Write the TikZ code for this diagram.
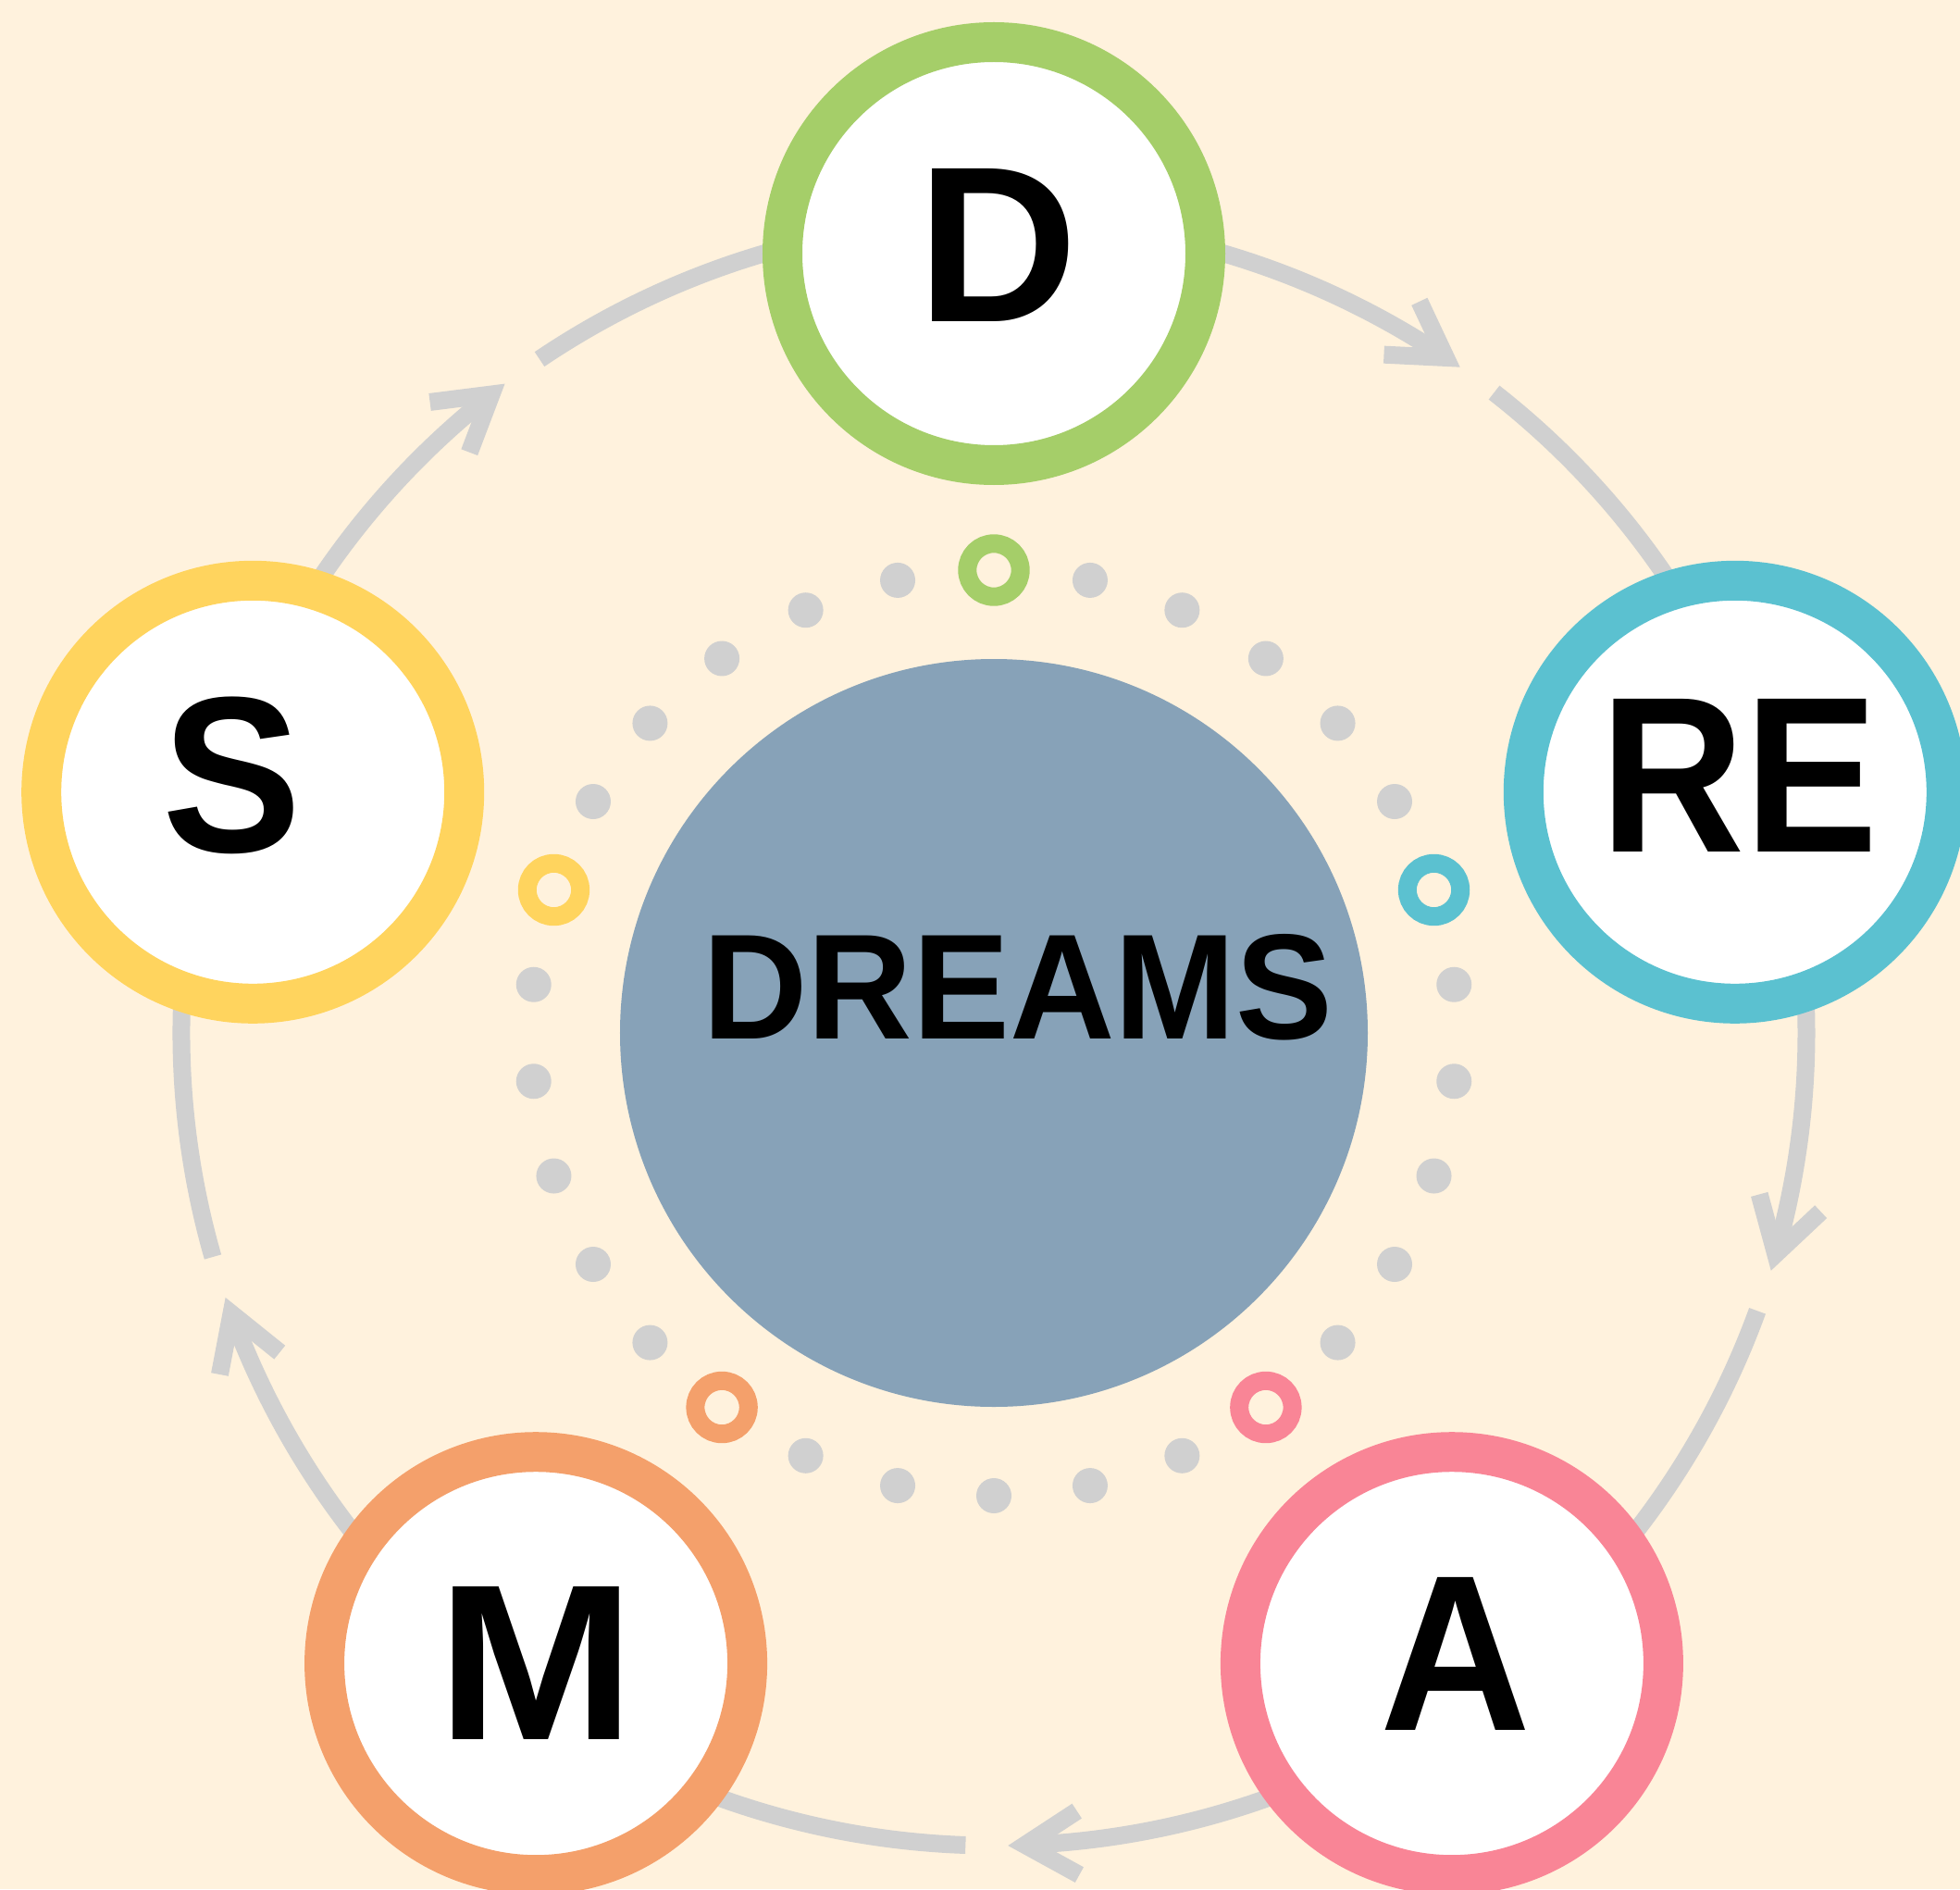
\documentclass[tikz,border=0pt]{standalone}
\usepackage{fontspec}
\setmainfont{Liberation Sans}
\usetikzlibrary{calc}
\definecolor{bgc}{HTML}{FFF2DD}
\definecolor{greenc}{HTML}{A5CE69}
\definecolor{tealc}{HTML}{5BC1D0}
\definecolor{pinkc}{HTML}{F98596}
\definecolor{orangec}{HTML}{F4A06B}
\definecolor{yellowc}{HTML}{FFD45E}
\definecolor{bluec}{HTML}{87A2B8}
\definecolor{grayc}{HTML}{D0D0D0}
\begin{document}
\begin{tikzpicture}[
  ring/.style={circle, draw=#1, line width=21.5pt, fill=white, minimum size=228.5pt, inner sep=0pt},
  dotring/.style={circle, draw=#1, line width=10pt, minimum size=28.7pt, inner sep=0pt},
  graydot/.style={circle, fill=grayc, minimum size=19pt, inner sep=0pt},
  conn/.style={draw=grayc, line width=9.5pt},
  tipstyle/.style={draw=grayc, line width=9.5pt, line join=miter},
  bigletter/.style={font=\bfseries\fontsize{120}{120}\selectfont, inner sep=0pt},
  hubtext/.style={font=\bfseries\fontsize{81}{81}\selectfont, inner sep=0pt},
  hub/.style={circle, fill=bluec, minimum size=404pt, inner sep=0pt},
]
\useasboundingbox (-537pt,-462.5pt) rectangle (522pt,558pt);
\fill[bgc] (-537pt,-462.5pt) rectangle (522pt,558pt);
\clip (-537pt,-462.5pt) rectangle (522pt,558pt);

% connectors (arcs with open chevrons)
\foreach \t [count=\i] in {56.2,-15.8,-87.8,-159.8,-231.8} {
  \pgfmathsetmacro\sa{\t+67.8}
  \pgfmathsetmacro\aa{\t+59}
  \pgfmathsetmacro\ab{\t+121}
  \coordinate (s\i) at (\sa:439pt);
  \coordinate (t\i) at (\t:439pt);
  \draw[conn] (s\i) arc[start angle=\sa, end angle=\t, radius=439pt];
  \draw[tipstyle] ([shift={(\aa:33.5pt)}]t\i) -- (t\i) -- ([shift={(\ab:33.5pt)}]t\i);
}

% hub
\node[hub] (hub) at (0,0) {};
\node[hubtext] (hubl) at (13pt,24.5pt) {\scalebox{0.97}[1]{DREAMS}};

% dots
\foreach \k in {0,...,29} {
  \pgfmathtruncatemacro\m{mod(\k,6)}
  \pgfmathsetmacro\ang{90+12*\k}
  \ifnum\m=0\relax\else
    \node[graydot] (dot\k) at (\ang:250pt) {};
  \fi
}
\node[dotring=greenc]  (rD) at (90:250pt) {};
\node[dotring=tealc]   (rR) at (18:250pt) {};
\node[dotring=pinkc]   (rA) at (-54:250pt) {};
\node[dotring=orangec] (rM) at (-126:250pt) {};
\node[dotring=yellowc] (rS) at (162:250pt) {};

% stage circles
\node[ring=greenc]  (D) at (90:421pt) {};
\node[ring=tealc]   (R) at (18:421pt) {};
\node[ring=pinkc]   (A) at (-54:421pt) {};
\node[ring=orangec] (M) at (-126:421pt) {};
\node[ring=yellowc] (S) at (162:421pt) {};

\node[bigletter] (Dl) at ([shift={(2pt,4.5pt)}]D) {D};
\node[bigletter] (Rl) at ([shift={(2.5pt,9pt)}]R) {\scalebox{0.9}[1]{RE}};
\node[bigletter] (Al) at ([shift={(2pt,5pt)}]A) {\scalebox{0.94}[1]{A}};
\node[bigletter] (Ml) at (M) {\scalebox{1.07}[1]{M}};
\node[bigletter] (Sl) at ([shift={(-11pt,9pt)}]S) {\scalebox{0.94}[1]{S}};
\end{tikzpicture}
\end{document}
